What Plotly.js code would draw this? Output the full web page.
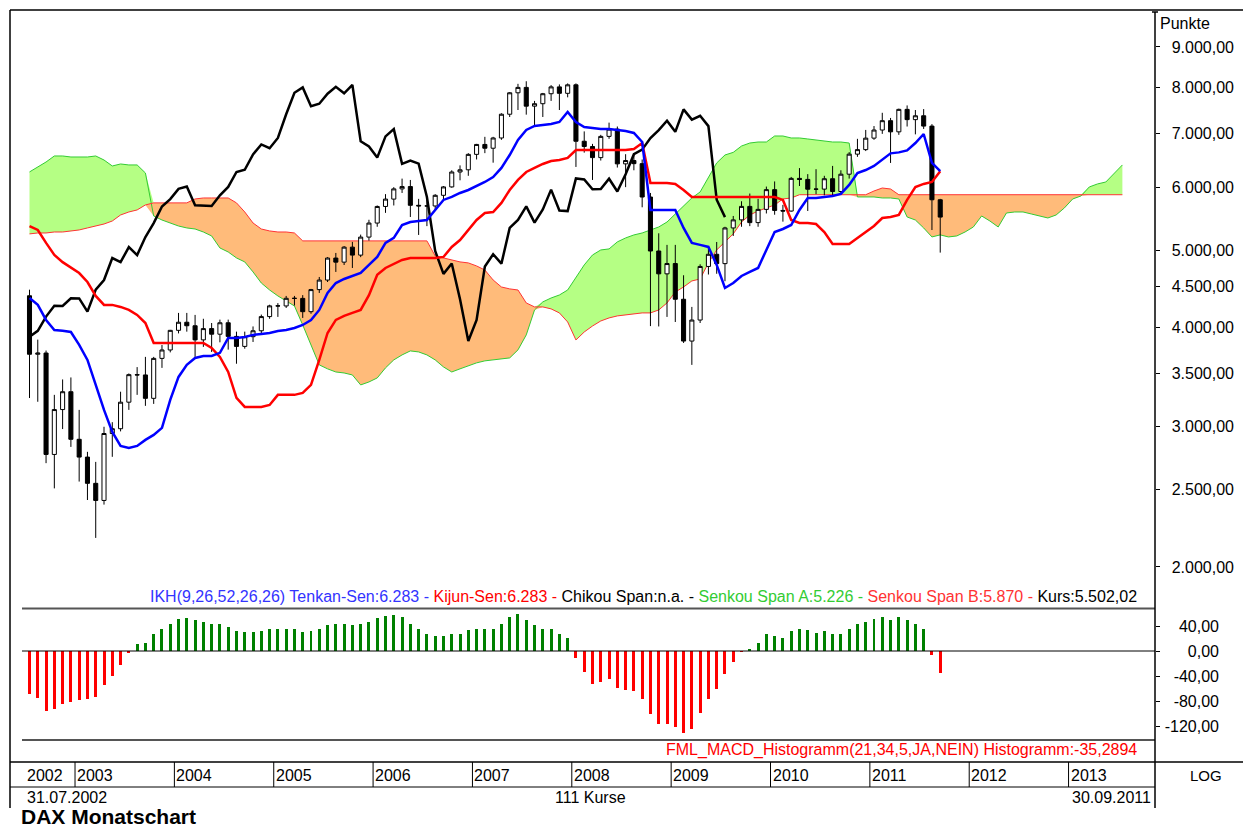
<!DOCTYPE html>
<html><head><meta charset="utf-8">
<script src="https://cdn.plot.ly/plotly-3.0.1.min.js"></script>
<style>html,body{margin:0;padding:0;background:#fff;}#chart{width:1247px;height:827px;}</style>
</head><body><div id="chart"></div>
<script>
// ---- DAX monthly candles, 07/2002 .. 09/2011 (111 bars) ----
const openP = [4382,3700,3713,2769,3153,3320,
 2893,2748,2547,2424,2942,2983,3221,3488,3485,3257,3656,3746,
 3965,4059,4018,3857,3985,3921,4053,3896,3785,3893,3960,4126,
 4256,4255,4350,4349,4185,4461,4586,4887,4830,5044,4929,5193,
 5408,5674,5796,5970,6010,5693,5683,5682,5860,6004,6269,6309,
 6597,6789,6715,6917,7409,7883,8007,7584,7638,7862,8019,7871,
 8067,6852,6748,6535,6949,7097,6418,6480,6422,5831,4988,4669,
 4810,4338,3844,4085,4770,4941,4809,5332,5458,5675,5415,5626,
 5957,5609,5599,6154,6136,5964,5966,6148,5925,6229,6601,6688,
 6914,7078,7272,7041,7514,7294,7376,7159,5785];
const highP = [4460,3860,3740,3290,3440,3460,
 3150,2790,2710,3000,3040,3320,3500,3565,3672,3672,3800,3970,
 4170,4170,4146,4100,4050,4090,4090,3950,3950,4010,4150,4270,
 4290,4380,4380,4390,4470,4627,4900,4960,5060,5121,5230,5460,
 5690,5880,6000,6150,6126,5800,5790,5880,6020,6300,6390,6620,
 6800,6940,6940,7430,7900,8090,8151,7700,7880,8060,8076,8100,
 8100,7050,6800,6980,7231,7150,6600,6600,6500,5900,5250,5077,
 5077,4650,4243,4800,5050,5120,5350,5520,5760,5890,5800,6010,
 6100,5700,6180,6340,6230,6320,6200,6380,6300,6640,6900,7080,
 7160,7440,7330,7530,7600,7500,7520,7200,5800];
const lowP = [3260,3225,2700,2510,2980,2830,
 2560,2427,2175,2395,2750,2960,3150,3290,3187,3205,3557,3720,
 3930,3950,3672,3780,3725,3830,3750,3600,3760,3834,3930,4100,
 4122,4230,4260,4110,4160,4418,4560,4695,4790,4749,4900,5140,
 5350,5570,5690,5900,5504,5225,5360,5600,5780,5990,6120,6200,
 6500,6620,6440,6880,7350,7500,7400,7180,7350,7700,7500,7780,
 6361,6630,6126,6480,6900,6350,6000,6300,5660,4014,4010,4122,
 4062,3823,3588,4050,4660,4670,4570,5210,5350,5360,5350,5560,
 5540,5430,5590,6020,5600,5880,5860,5860,5900,6150,6550,6660,
 6880,7000,6435,6980,7150,6990,7100,5300,4965];
const closeP = [3700,3713,2769,3153,3320,2893,
 2748,2547,2424,2942,2983,3221,3488,3485,3257,3656,3746,3965,
 4059,4018,3857,3985,3921,4053,3896,3785,3893,3960,4126,4256,
 4255,4350,4349,4185,4461,4586,4887,4830,5044,4929,5193,5408,
 5674,5796,5970,6010,5693,5683,5682,5860,6004,6269,6309,6597,
 6789,6715,6917,7409,7883,8007,7584,7638,7862,8019,7871,8067,
 6852,6748,6535,6949,7097,6418,6480,6422,5831,4988,4669,4810,
 4338,3844,4085,4770,4941,4809,5332,5458,5675,5415,5626,5957,
 5609,5599,6154,6136,5964,5966,6148,5925,6229,6601,6688,6914,
 7078,7272,7041,7514,7294,7376,7159,5785,5502];

// ---- Ichimoku lines ----
const tenkan = [4354,4268,4086,3969,3960,3946,3801,3640,3386,3150,2956,2838,2822,2838,2888,
 2930,2990,3243,3465,3588,3661,3682,3682,3715,3879,3879,3890,3913,3924,3935,
 3958,3969,3992,4027,4086,4206,4418,4547,4600,4640,4681,4791,4903,5106,5180,
 5378,5424,5440,5456,5617,5782,5832,5900,5951,6020,6090,6179,6343,6585,6877,
 7079,7162,7183,7203,7245,7457,7245,7141,7120,7100,7100,7079,7059,7018,6837,
 5617,5617,5617,5617,5332,5106,5077,5047,4791,4482,4547,4640,4695,4749,5003,
 5270,5316,5378,5617,5815,5815,5832,5849,5883,6038,6251,6305,6379,6490,6616,
 6635,6674,6817,6997,6435,6283];
const kijun = [5362,5301,5106,4931,4830,4750,4680,4560,4380,4268,4268,4243,4206,4146,4050,
 3823,3823,3823,3823,3823,3823,3823,3768,3672,3515,3262,3177,3177,3177,3195,
 3290,3290,3290,3309,3386,3640,3935,4086,4134,4170,4206,4390,4655,4749,4805,
 4861,4889,4889,4889,4889,4903,5047,5149,5301,5456,5568,5584,5733,5951,6126,
 6269,6343,6416,6472,6490,6528,6681,6681,6681,6681,6681,6681,6681,6700,6817,
 6073,6073,6073,6056,5951,5832,5832,5832,5832,5832,5832,5832,5832,5832,5832,
 5832,5782,5456,5409,5409,5393,5270,5091,5091,5091,5180,5270,5362,5488,5504,
 5536,5782,6003,6056,6090,6283];
// Senkou spans, drawn 26 bars ahead (133 points)
const senkouA = [6270,6361,6453,6566,6566,6547,6547,6547,6566,6490,6379,6416,6398,6398,6251,
 5520,5456,5409,5362,5332,5316,5270,5210,5032,4974,4889,4833,4695,4547,4456,
 4380,4317,4255,4027,3801,3588,3547,3515,3505,3485,3386,3415,3455,3557,3640,
 3693,3736,3725,3693,3640,3567,3515,3547,3578,3609,3630,3640,3651,3661,3747,
 3913,4206,4305,4354,4392,4456,4614,4791,4931,5003,5018,5121,5180,5225,5255,
 5301,5347,5424,5552,5666,5815,5917,6162,6435,6585,6635,6758,6817,6837,6837,
 6957,6957,6917,6917,6897,6877,6857,6837,6837,6817,5832,5832,5832,5815,5815,
 5798,5504,5456,5332,5195,5226,5195,5210,5270,5347,5520,5440,5347,5568,5584,
 5584,5552,5520,5488,5536,5650,5798,5849,6003,6056,6090,6233,6398];
const senkouB = [5241,5255,5255,5270,5270,5286,5301,5332,5362,5393,5440,5536,5584,5617,5699,
 5733,5733,5733,5733,5733,5798,5815,5815,5815,5815,5733,5584,5409,5316,5286,
 5270,5270,5255,5136,5136,5136,5136,5136,5136,5136,5136,5136,5136,5136,5136,
 5136,5136,5136,5136,4917,4889,4861,4833,4819,4777,4721,4587,4495,4470,4456,
 4292,4243,4243,4219,4170,4062,3856,3946,4015,4074,4110,4134,4146,4158,4170,
 4170,4206,4292,4430,4495,4574,4600,4819,5003,5121,5241,5424,5536,5600,5650,
 5699,5798,5815,5870,5870,5870,5870,5870,5870,5870,5870,5870,5934,5985,5968,
 5870,5870,5870,5870,5870,5870,5870,5870,5870,5870,5870,5870,5870,5870,5870,
 5870,5870,5870,5870,5870,5870,5870,5870,5870,5870,5870,5870,5870];
const chikouShift = 26;

// ---- MACD histogram (21,34,5) ----
const macdHist = [-69,-75,-96,-93,-84,-82,-79,-77,-74,-54,-40,-22,-3,12,13,
 27,35,44,51,53,49,47,44,44,38,32,30,30,32,36,
 36,36,36,30,32,35,41,43,44,41,43,47,53,56,57,
 55,44,35,27,24,24,27,28,33,36,35,35,43,55,59,
 49,41,36,35,27,21,-11,-34,-52,-50,-45,-59,-62,-64,-77,
 -100,-116,-117,-122,-131,-124,-99,-76,-61,-36,-18,-1,4,13,27,
 24,21,32,36,34,29,32,27,28,36,43,46,51,55,49,
 55,49,44,35,-7,-35.29];

// ---- axis labels ----
const priceTicks = [2000,2500,3000,3500,4000,4500,5000,6000,7000,8000,9000];
const priceTickText = ['2.000,00','2.500,00','3.000,00','3.500,00','4.000,00','4.500,00','5.000,00','6.000,00','7.000,00','8.000,00','9.000,00'];
const macdTicks = [40,0,-40,-80,-120];
const macdTickText = ['40,00','0,00','-40,00','-80,00','-120,00'];
const years = ['2002','2003','2004','2005','2006','2007','2008','2009','2010','2011','2012','2013'];
const firstMonth = 7; // July 2002

// ---------------------------------------------------------------
const W = 1247, H = 827;
const PX = x => x / W, PY = y => 1 - y / H;
const FONT = 'Liberation Sans, Arial, sans-serif';
const FS = 16;
const idx = n => Array.from({length: n}, (_, i) => i);

const xC = idx(closeP.length);
const xS = idx(senkouA.length);
const cloudHi = senkouA.map((a, i) => Math.max(a, senkouB[i]));
const cloudLo = senkouA.map((a, i) => Math.min(a, senkouB[i]));

const traces = [
  // cloud on the base price axis (drawn first)
  {x: xS, y: senkouB, mode: 'lines', line: {width: 0}, hoverinfo: 'skip', showlegend: false},
  {x: xS, y: cloudHi, mode: 'lines', line: {width: 0}, fill: 'tonexty', fillcolor: '#b5ff84', hoverinfo: 'skip', showlegend: false},
  {x: xS, y: senkouB, mode: 'lines', line: {width: 0}, hoverinfo: 'skip', showlegend: false},
  {x: xS, y: cloudLo, mode: 'lines', line: {width: 0}, fill: 'tonexty', fillcolor: '#ffbb7a', hoverinfo: 'skip', showlegend: false},
  {x: xS, y: senkouA, mode: 'lines', line: {color: '#33cc33', width: 1}, showlegend: false},
  {x: xS, y: senkouB, mode: 'lines', line: {color: '#ff3333', width: 1}, showlegend: false},
  // candles and lines on the overlaying price axis (drawn above the cloud)
  {type: 'candlestick', x: xC, open: openP, high: highP, low: lowP, close: closeP, yaxis: 'y3',
   increasing: {line: {color: '#000', width: 1}, fillcolor: '#ffffff'},
   decreasing: {line: {color: '#000', width: 1}, fillcolor: '#000000'},
   whiskerwidth: 0, showlegend: false, hoverinfo: 'skip'},
  {x: xC.slice(chikouShift).map(i => i - chikouShift), y: closeP.slice(chikouShift), mode: 'lines', yaxis: 'y3',
   line: {color: '#000', width: 2.5}, showlegend: false},
  {x: xC, y: kijun, mode: 'lines', yaxis: 'y3', line: {color: '#ff0000', width: 2.5}, showlegend: false},
  {x: xC, y: tenkan, mode: 'lines', yaxis: 'y3', line: {color: '#0000ff', width: 2.5}, showlegend: false},
  {type: 'bar', x: xC, y: macdHist, yaxis: 'y2', width: 0.36,
   marker: {color: macdHist.map(v => v >= 0 ? '#008000' : '#ff0000'), line: {width: 0}},
   showlegend: false, hoverinfo: 'skip'}
];

const shapes = [];
const line = (x0, y0, x1, y1, color, w) => shapes.push({type: 'line', xref: 'paper', yref: 'paper',
  x0: PX(x0), y0: PY(y0), x1: PX(x1), y1: PY(y1), line: {color: color, width: w}});
// frame
line(10, 10, 1243, 10, '#000', 1.5);
line(10, 10, 10, 808, '#000', 1.5);
// panel separators
line(22, 608.5, 1155, 608.5, '#555', 2);
line(22, 740, 1155, 740, '#555', 2);
// macd zero line
shapes.push({type: 'line', xref: 'paper', yref: 'y2', x0: PX(22), x1: PX(1155), y0: 0, y1: 0, line: {color: '#000', width: 1}});
// price axis line
line(1155, 12, 1155, 808, '#000', 1.5);
line(1152, 12, 1158, 12, '#000', 1.5);
// time band
line(10, 762, 1243, 762, '#000', 1.5);
line(10, 787, 1155, 787, '#000', 1);

const annotations = [];
const ann = (text, x, y, xa, opts) => annotations.push(Object.assign({text: text, xref: 'paper', yref: 'paper',
  x: PX(x), y: PY(y), xanchor: xa, yanchor: 'middle', showarrow: false,
  font: {family: FONT, size: FS, color: '#000'}}, opts || {}));

years.forEach((yr, k) => {
  const jan = k === 0 ? 0 : (12 - firstMonth + 1) + (k - 1) * 12; // bar index of January
  if (k > 0) {
    shapes.push({type: 'line', xref: 'x', yref: 'paper', x0: jan - 0.5, x1: jan - 0.5, y0: PY(787), y1: PY(762), line: {color: '#000', width: 1}});
  }
  annotations.push({text: yr, xref: 'x', yref: 'paper', x: k === 0 ? -0.6 : jan - 0.5, xshift: 0, y: PY(775),
    xanchor: 'left', yanchor: 'middle', showarrow: false, font: {family: FONT, size: FS, color: '#000'}});
});
ann('LOG', 1206, 775, 'center', {font: {family: FONT, size: 15, color: '#000'}});
ann('31.07.2002', 25, 797, 'left');
ann('111 Kurse', 590, 797, 'center');
ann('30.09.2011', 1153, 797, 'right');
ann('<b>DAX Monatschart</b>', 19, 816, 'left', {font: {family: FONT, size: 21, color: '#000'}});
ann('Punkte', 1158, 24, 'left');
ann('<span style="color:#3333ff">IKH(9,26,52,26,26) Tenkan-Sen:6.283 - </span>' +
    '<span style="color:#ff0000">Kijun-Sen:6.283 - </span>' +
    '<span style="color:#000000">Chikou Span:n.a. - </span>' +
    '<span style="color:#33cc33">Senkou Span A:5.226 - </span>' +
    '<span style="color:#ff3333">Senkou Span B:5.870 - </span>' +
    '<span style="color:#000000">Kurs:5.502,02</span>', 1139, 596, 'right');
ann('FML_MACD_Histogramm(21,34,5,JA,NEIN) Histogramm:-35,2894', 1139, 750, 'right', {font: {family: FONT, size: FS, color: '#ff0000'}});

const yRange = [3.2494, 3.9982];
const mRange = [-142.4, 67.2];
const layout = {
  width: W, height: H, margin: {l: 0, r: 0, t: 0, b: 0},
  paper_bgcolor: '#fff', plot_bgcolor: 'rgba(0,0,0,0)', showlegend: false,
  bargap: 0,
  xaxis: {domain: [PX(10), PX(1155)], range: [-2.355, 135.94], visible: false, fixedrange: true,
          rangeslider: {visible: false}},
  yaxis: {type: 'log', domain: [PY(608), PY(12)], range: yRange, side: 'right',
          showgrid: false, zeroline: false, showline: false, tickvals: priceTicks, ticktext: priceTickText,
          ticks: 'outside', ticklen: 4, tickcolor: '#000', showticklabels: false},
  yaxis3: {type: 'log', overlaying: 'y', anchor: 'free', position: PX(1234), side: 'left',
          range: yRange, showgrid: false, zeroline: false, showline: false,
          tickvals: priceTicks, ticktext: priceTickText, ticks: '',
          tickfont: {family: FONT, size: FS, color: '#000'}},
  yaxis2: {domain: [PY(740), PY(609)], range: mRange, side: 'right', anchor: 'x',
          showgrid: false, zeroline: false, showline: false, tickvals: macdTicks, ticktext: macdTickText,
          ticks: 'outside', ticklen: 4, tickcolor: '#000', showticklabels: false},
  yaxis4: {overlaying: 'y2', anchor: 'free', position: PX(1219), side: 'left', range: mRange,
          showgrid: false, zeroline: false, showline: false, tickvals: macdTicks, ticktext: macdTickText,
          ticks: '', tickfont: {family: FONT, size: FS, color: '#000'}},
  shapes: shapes, annotations: annotations,
  font: {family: FONT}
};
traces.push({x: [0], y: [0], yaxis: 'y4', mode: 'markers', marker: {opacity: 0}, hoverinfo: 'skip', showlegend: false});

Plotly.newPlot('chart', traces, layout, {staticPlot: true, displayModeBar: false});
</script></body></html>
